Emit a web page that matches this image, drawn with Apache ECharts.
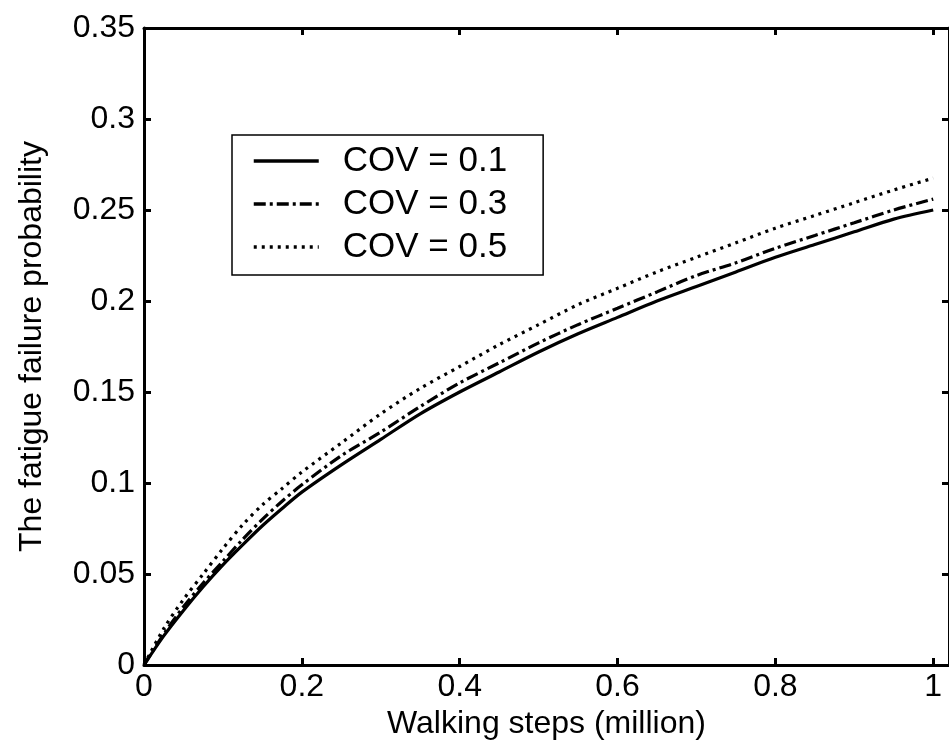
<!DOCTYPE html>
<html>
<head>
<meta charset="utf-8">
<script src="https://cdn.jsdelivr.net/npm/echarts@6/dist/echarts.min.js"></script>
<style>
  html, body { margin: 0; padding: 0; background: #fff; }
  #main { width: 949px; height: 751px; }
</style>
</head>
<body>
<div id="main"></div>
<script>
// walking steps (million)
const steps = [0, 0.025, 0.05, 0.075, 0.1, 0.125, 0.15, 0.175, 0.2, 0.25, 0.3, 0.35, 0.4, 0.45, 0.5,
  0.55, 0.6, 0.65, 0.7, 0.75, 0.8, 0.85, 0.9, 0.95, 1.0];
// fatigue failure probability for each COV
const cov01 = [0, 0.016, 0.030, 0.043, 0.055, 0.066, 0.0765, 0.086, 0.095, 0.110, 0.124, 0.138, 0.150, 0.161, 0.172,
  0.182, 0.191, 0.200, 0.208, 0.216, 0.224, 0.231, 0.238, 0.245, 0.250];
const cov03 = [0, 0.017, 0.032, 0.045, 0.057, 0.069, 0.080, 0.090, 0.099, 0.115, 0.128, 0.142, 0.155, 0.166, 0.177,
  0.187, 0.196, 0.205, 0.214, 0.221, 0.229, 0.236, 0.243, 0.250, 0.256];
const cov05 = [0, 0.020, 0.036, 0.050, 0.064, 0.077, 0.088, 0.097, 0.106, 0.122, 0.138, 0.152, 0.164, 0.176, 0.187,
  0.198, 0.207, 0.216, 0.224, 0.232, 0.240, 0.247, 0.254, 0.261, 0.2675];
const seriesNames = ['COV = 0.1', 'COV = 0.3', 'COV = 0.5'];

const font = '"Liberation Sans", Arial, sans-serif';

function pairs(ys) {
  return steps.map((x, i) => [x, ys[i]]);
}

const chart = echarts.init(document.getElementById('main'), null, { renderer: 'canvas' });

const baseAxis = {
  axisLine: { show: true, onZero: false, lineStyle: { color: '#000', width: 3 } },
  axisTick: { show: true, inside: true, length: 7, lineStyle: { color: '#000', width: 3 } },
  splitLine: { show: false }
};

const option = {
  backgroundColor: '#fff',
  animation: false,
  textStyle: { fontFamily: font, color: '#000' },
  grid: { left: 144, top: 28, width: 806, height: 637, containLabel: false },
  legend: {
    orient: 'vertical',
    left: 232,
    top: 135,
    data: seriesNames,
    backgroundColor: '#fff',
    borderColor: '#000',
    borderWidth: 1.5,
    borderRadius: 0,
    padding: [8, 36, 10, 20],
    itemWidth: 65,
    itemHeight: 20,
    itemGap: 7,
    // hide the symbol dot, keep only the line sample
    itemStyle: { opacity: 0 },
    lineStyle: { width: 3.5 },
    textStyle: { fontFamily: font, fontSize: 35, color: '#000', lineHeight: 36, padding: [0, 0, 0, 19] }
  },
  xAxis: [
    Object.assign({}, baseAxis, {
      type: 'value', position: 'bottom', min: 0, max: 1.02, interval: 0.2,
      name: 'Walking steps (million)', nameLocation: 'middle', nameGap: 35,
      nameTextStyle: { fontFamily: font, fontSize: 32, color: '#000', verticalAlign: 'top' },
      axisLabel: { show: true, margin: 6, fontSize: 32, color: '#000', fontFamily: font, showMaxLabel: false }
    }),
    Object.assign({}, baseAxis, {
      type: 'value', position: 'top', min: 0, max: 1.02, interval: 0.2,
      axisLabel: { show: false }
    })
  ],
  yAxis: [
    Object.assign({}, baseAxis, {
      type: 'value', position: 'left', min: 0, max: 0.35, interval: 0.05,
      name: 'The fatigue failure probability', nameLocation: 'middle', nameGap: 96,
      nameTextStyle: { fontFamily: font, fontSize: 32, color: '#000' },
      axisLabel: { show: true, margin: 9, fontSize: 32, color: '#000', fontFamily: font }
    }),
    Object.assign({}, baseAxis, {
      type: 'value', position: 'right', min: 0, max: 0.35, interval: 0.05,
      axisLabel: { show: false }
    })
  ],
  series: [
    {
      name: seriesNames[0], type: 'line', data: pairs(cov01), symbol: 'none', smooth: 0.3,
      lineStyle: { color: '#000', width: 3.2, type: 'solid' }, itemStyle: { color: '#000' }
    },
    {
      name: seriesNames[1], type: 'line', data: pairs(cov03), symbol: 'none', smooth: 0.3,
      lineStyle: { color: '#000', width: 3.2, type: [12, 4, 3, 4] }, itemStyle: { color: '#000' }
    },
    {
      name: seriesNames[2], type: 'line', data: pairs(cov05), symbol: 'none', smooth: 0.3,
      lineStyle: { color: '#000', width: 3.2, type: [3, 5] }, itemStyle: { color: '#000' }
    }
  ]
};

chart.setOption(option);
</script>
</body>
</html>
